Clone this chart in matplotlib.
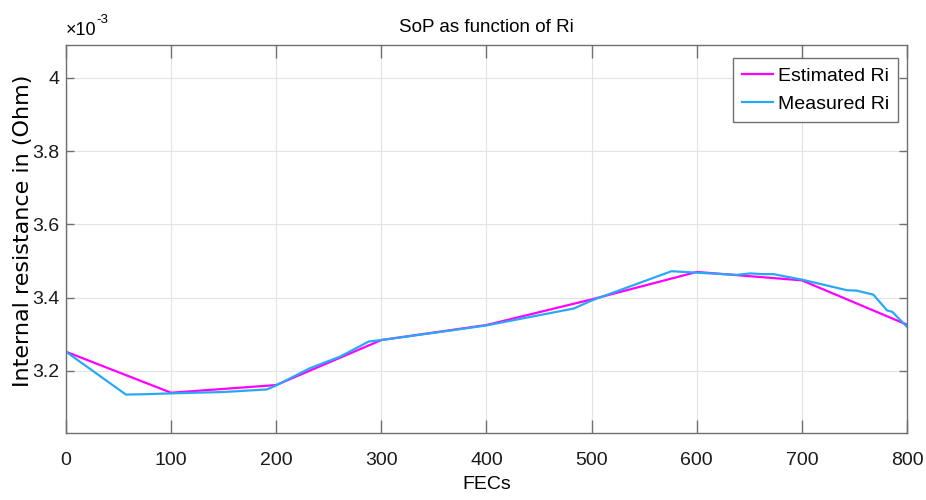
import matplotlib
matplotlib.use('Agg')
import matplotlib.pyplot as plt
from matplotlib import font_manager

# values, y in units of 1e-3 Ohm
est_fec = [0, 100, 200, 300, 400, 500, 600, 700, 800]
est_ri = [3.252, 3.140, 3.161, 3.284, 3.325, 3.395, 3.470, 3.447, 3.326]

meas_fec = [0, 0, 57, 75, 97, 150, 191, 200, 232, 261, 288, 300, 381, 400, 483,
            500, 576, 600, 638, 651, 662, 673, 700, 743, 752, 768, 781, 786, 800]
meas_ri = [3.978, 3.252, 3.135, 3.136, 3.138, 3.142, 3.149, 3.160, 3.207, 3.239, 3.280,
           3.284, 3.316, 3.324, 3.370, 3.392, 3.472, 3.468, 3.462, 3.466, 3.464, 3.464,
           3.449, 3.420, 3.419, 3.408, 3.365, 3.361, 3.320]

xticks = [0, 100, 200, 300, 400, 500, 600, 700, 800]
yticks = [3.2, 3.4, 3.6, 3.8, 4.0]
ytick_labels = ['3.2', '3.4', '3.6', '3.8', '4']

names = {f.name for f in font_manager.fontManager.ttflist}
narrow = 'Liberation Sans Narrow' if 'Liberation Sans Narrow' in names else 'Liberation Sans'

fig = plt.figure(figsize=(9.26, 5.0), dpi=100)
ax = fig.add_axes([66 / 926, 1 - 433 / 500, 841 / 926, 388 / 500])

ax.plot(est_fec, est_ri, color='#ff00ff', lw=1.6, label='Estimated Ri')
ax.plot(meas_fec, meas_ri, color='#2aa8f8', lw=1.6, label='Measured Ri')

ax.set_xlim(0, 800)
ax.set_ylim(3.03, 4.09)
ax.set_xticks(xticks)
ax.set_yticks(yticks)
ax.set_xticklabels([str(v) for v in xticks], family=narrow, fontsize=14)
ax.set_yticklabels(ytick_labels, family=narrow, fontsize=14)

ax.grid(True, color='#e3e3e3', lw=0.8)
ax.set_axisbelow(True)
for s in ax.spines.values():
    s.set_color('#707070')
    s.set_linewidth(1.0)
ax.tick_params(axis='x', direction='in', length=9.5, width=1.0, color='#707070',
               top=True, pad=14, labelcolor='#1a1a1a')
ax.tick_params(axis='y', direction='in', length=6, width=1.0, color='#707070',
               right=True, pad=5, labelcolor='#1a1a1a')

ax.set_title('SoP as function of Ri', family=narrow, fontsize=13.5, pad=9)
ax.set_xlabel('FECs', family=narrow, fontsize=14, labelpad=5)
ax.set_ylabel('Internal resistance in (Ohm)', family='DejaVu Sans', fontsize=16)
ax.yaxis.set_label_coords(-33 / 841, 0.52)

ax.annotate('×10', xy=(0, 1), xycoords='axes fraction', xytext=(0, 4),
            textcoords='offset points', family=narrow, fontsize=13, va='bottom', ha='left')
ax.annotate('-3', xy=(0, 1), xycoords='axes fraction', xytext=(22, 14),
            textcoords='offset points', family=narrow, fontsize=9.5, va='bottom', ha='left')

leg = ax.legend(loc='upper right', bbox_to_anchor=(0.989, 0.966), fancybox=False,
                framealpha=1, edgecolor='#707070', prop={'family': narrow, 'size': 14},
                handlelength=1.6, handletextpad=0.25, borderpad=0.45, labelspacing=0.55,
                borderaxespad=0)
leg.get_frame().set_linewidth(1.0)

fig.savefig('out.png', dpi=100)
